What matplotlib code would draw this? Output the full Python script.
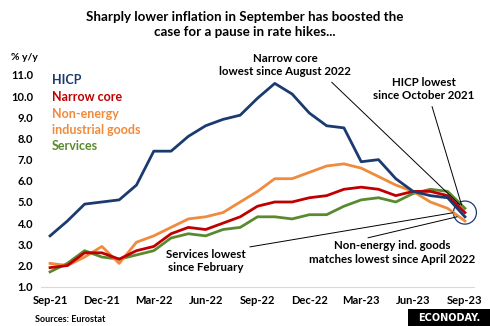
import matplotlib
matplotlib.use('Agg')
import matplotlib.pyplot as plt
from matplotlib.patches import Ellipse, Rectangle

plt.rcParams['font.family'] = ['Lato', 'DejaVu Sans']
plt.rcParams['font.weight'] = 'bold'

months = ['Sep-21', 'Oct-21', 'Nov-21', 'Dec-21', 'Jan-22', 'Feb-22', 'Mar-22', 'Apr-22',
          'May-22', 'Jun-22', 'Jul-22', 'Aug-22', 'Sep-22', 'Oct-22', 'Nov-22', 'Dec-22',
          'Jan-23', 'Feb-23', 'Mar-23', 'Apr-23', 'May-23', 'Jun-23', 'Jul-23', 'Aug-23', 'Sep-23']
hicp = [3.4, 4.1, 4.9, 5.0, 5.1, 5.8, 7.4, 7.4, 8.1, 8.6, 8.9, 9.1, 9.9, 10.6, 10.1, 9.2,
        8.6, 8.5, 6.9, 7.0, 6.1, 5.5, 5.3, 5.2, 4.3]
core = [1.9, 2.0, 2.6, 2.6, 2.3, 2.7, 2.9, 3.5, 3.8, 3.7, 4.0, 4.3, 4.8, 5.0, 5.0, 5.2,
        5.3, 5.6, 5.7, 5.6, 5.3, 5.5, 5.5, 5.3, 4.5]
neig = [2.1, 2.0, 2.4, 2.9, 2.1, 3.1, 3.4, 3.8, 4.2, 4.3, 4.5, 5.0, 5.5, 6.1, 6.1, 6.4,
        6.7, 6.8, 6.6, 6.2, 5.8, 5.5, 5.0, 4.7, 4.1]
services = [1.7, 2.1, 2.7, 2.4, 2.3, 2.5, 2.7, 3.3, 3.5, 3.4, 3.7, 3.8, 4.3, 4.3, 4.2, 4.4,
            4.4, 4.8, 5.1, 5.2, 5.0, 5.4, 5.6, 5.5, 4.7]
yticks = [1.0, 2.0, 3.0, 4.0, 5.0, 6.0, 7.0, 8.0, 9.0, 10.0, 11.0]

c_hicp = '#1B3A70'
c_core = '#C00000'
c_neig = '#F08A3C'
c_serv = '#5A8A30'

fig = plt.figure(figsize=(4.9, 3.26), dpi=100)
ax = fig.add_axes([0.0845, 0.1206, 0.882, 0.669])

x = list(range(len(months)))
ax.plot(x, services, color=c_serv, lw=2)
ax.plot(x, neig, color=c_neig, lw=2)
ax.plot(x, core, color=c_core, lw=2)
ax.plot(x, hicp, color=c_hicp, lw=2)

ax.set_xlim(-0.5, 24.5)
ax.set_ylim(1.0, 11.3)
ax.set_yticks(yticks)
ax.set_yticklabels(['%.1f' % v for v in yticks])
ax.set_xticks(x[::3])
ax.set_xticklabels(months[::3])
ax.tick_params(length=0, labelsize=8, pad=6)
for s in ['top', 'right', 'left']:
    ax.spines[s].set_visible(False)
ax.spines['bottom'].set_color('#D9D9D9')

# legend as coloured text
leg = [('HICP', c_hicp, 10.75), ('Narrow core', c_core, 9.95), ('Non-energy', c_neig, 9.15),
       ('industrial goods', c_neig, 8.4), ('Services', c_serv, 7.65)]
for t, c, yy in leg:
    ax.text(0.1, yy, t, color=c, fontsize=9, va='center', ha='left')

# callouts
end = len(months) - 1
tk = dict(fontsize=8.3, ha='center', va='center', color='black', clip_on=False)
ax.text(13.6, 11.48, 'Narrow core\nlowest since August 2022', linespacing=1.25, **tk)
ax.plot([16.3, end - 0.3], [10.65, 4.87], color='black', lw=0.7, clip_on=False)
ax.text(21.6, 10.35, 'HICP lowest\nsince October 2021', linespacing=1.25, **tk)
ax.plot([22.1, end - 0.2], [9.5, 4.87], color='black', lw=0.7, clip_on=False)
ax.text(9.0, 2.2, 'Services lowest\nsince February', linespacing=1.25, **tk)
ax.plot([11.57, end - 0.7], [2.88, 4.49], color='black', lw=0.7)
ax.text(19.8, 2.62, 'Non-energy ind. goods\nmatches lowest since April 2022', linespacing=1.25, **tk)
ax.plot([18.4, end - 0.46], [3.31, 4.3], color='black', lw=0.7)
ax.add_patch(Ellipse((end, 4.5), 1.33, 1.09, fill=False, ec=c_hicp, lw=0.9, clip_on=False))

fig.text(0.5, 0.926, 'Sharply lower inflation in September has boosted the\ncase for a pause in rate hikes...',
         ha='center', va='center', fontsize=9.6, linespacing=1.3)
fig.text(0.022, 0.825, '% y/y', fontsize=7.5, va='center')
fig.text(0.071, 0.021, 'Sources: Eurostat', fontsize=6.5, va='center')
fig.add_artist(Rectangle((408 / 490, 0), 82 / 490, 17 / 326, transform=fig.transFigure,
                         fc='black', ec='none'))
fig.text(0.916, 0.026, 'ECONODAY.', fontsize=7, va='center', ha='center', color='white',
         family='DejaVu Sans')

fig.savefig('out.png', dpi=100)
